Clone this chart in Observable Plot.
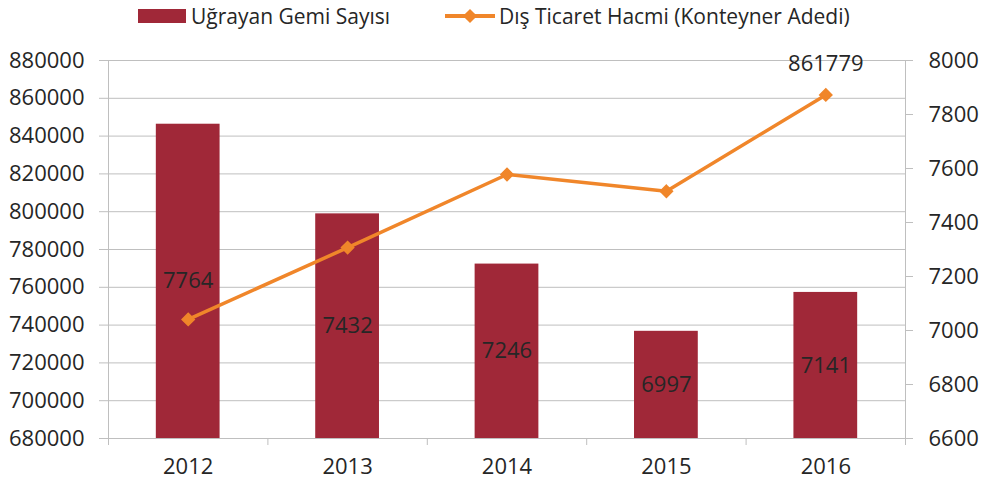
<!DOCTYPE html>
<html>
<head>
<meta charset="utf-8">
<script src="https://cdn.jsdelivr.net/npm/d3@7"></script>
<script src="https://cdn.jsdelivr.net/npm/@observablehq/plot@0.6"></script>
<style>
  html, body { margin: 0; padding: 0; background: #fff; }
  body { width: 983px; height: 485px; overflow: hidden; font-family: "Open Sans", sans-serif; color: #262626; }
  #legend { position: relative; height: 32px; font-size: 21px; }
  .item { position: absolute; top: 0; height: 32px; display: flex; align-items: center; white-space: nowrap; }
  .sw-bar { width: 48px; height: 14px; background: #A02838; margin-right: 5px; }
  .sw-line { position: relative; width: 50px; height: 4px; background: #F0862A; margin-right: 4px; }
  .sw-line::after { content: ""; position: absolute; left: 20px; top: -3px; width: 10px; height: 10px; background: #F0862A; transform: rotate(45deg); }
  svg { display: block; }
</style>
</head>
<body>
<div id="legend">
  <div class="item" style="left:138px;"><div class="sw-bar"></div><span>Uğrayan Gemi Sayısı</span></div>
  <div class="item" style="left:445px;"><div class="sw-line"></div><span>Dış Ticaret Hacmi (Konteyner Adedi)</span></div>
</div>
<div id="chart"></div>
<script>
// Data
const years = ["2012", "2013", "2014", "2015", "2016"];
const shipCalls = [7764, 7432, 7246, 6997, 7141];            // Uğrayan Gemi Sayısı (right axis, bars)
const containerVolume = [743000, 781000, 819700, 810800, 861779]; // Dış Ticaret Hacmi (left axis, line)
const labeledVolume = [null, null, null, null, 861779];
const leftTicks = [680000, 700000, 720000, 740000, 760000, 780000, 800000, 820000, 840000, 860000, 880000];
const rightTicks = [6600, 6800, 7000, 7200, 7400, 7600, 7800, 8000];

const L0 = 680000, L1 = 880000, R0 = 6600, R1 = 8000;
const toLeft = v => L0 + (v - R0) * (L1 - L0) / (R1 - R0);
const toRight = v => R0 + (v - L0) * (R1 - R0) / (L1 - L0);

const rows = years.map((y, i) => ({
  i, year: y, ships: shipCalls[i], shipsL: toLeft(shipCalls[i]),
  volume: containerVolume[i], label: labeledVolume[i]
}));
const boundaries = d3.range(-0.5, years.length, 1);

const grid = "#BFBFBF";
const text = "#262626";
const barColor = "#A02838";
const lineColor = "#F0862A";

const chart = Plot.plot({
  width: 983,
  height: 453,
  marginLeft: 108,
  marginRight: 78,
  marginTop: 28,
  marginBottom: 47,
  style: { fontFamily: "'Open Sans', sans-serif", fontSize: "22px", color: text, background: "#fff" },
  x: { type: "linear", domain: [-0.5, years.length - 0.5] },
  y: { domain: [L0, L1] },
  marks: [
    Plot.gridY(leftTicks, { stroke: grid, strokeOpacity: 1, strokeWidth: 1 }),
    Plot.ruleX([-0.5, years.length - 0.5], { stroke: grid, strokeWidth: 1 }),
    Plot.rectY(rows, { x1: d => d.i - 0.2, x2: d => d.i + 0.2, y1: L0, y2: "shipsL", fill: barColor }),
    Plot.text(rows, { x: "i", y: d => (L0 + d.shipsL) / 2, text: d => String(d.ships), fill: text, fontSize: 22 }),
    Plot.line(rows, { x: "i", y: "volume", stroke: lineColor, strokeWidth: 3.5 }),
    Plot.dot(rows, { x: "i", y: "volume", symbol: "diamond2", r: 5.5, fill: lineColor, stroke: lineColor }),
    Plot.text(rows.filter(d => d.label != null), { x: "i", y: "volume", text: d => String(d.label), dy: -31, fill: text, fontSize: 22 }),
    Plot.axisY(leftTicks, { anchor: "left", tickSize: 9, tickPadding: 15, tickFormat: d3.format("d"), stroke: grid, fill: text, label: null }),
    Plot.axisY(rightTicks.map(toLeft), { anchor: "right", tickSize: 7, tickPadding: 16, tickFormat: d => String(Math.round(toRight(d))), stroke: grid, fill: text, label: null }),
    Plot.axisX(boundaries, { anchor: "bottom", tickSize: 7, tickFormat: () => "", stroke: grid, label: null }),
    Plot.axisX(d3.range(years.length), { anchor: "bottom", tickSize: 0, tickPadding: 20, tickFormat: i => years[i], fill: text, label: null })
  ]
});
document.getElementById("chart").appendChild(chart);
</script>
</body>
</html>
